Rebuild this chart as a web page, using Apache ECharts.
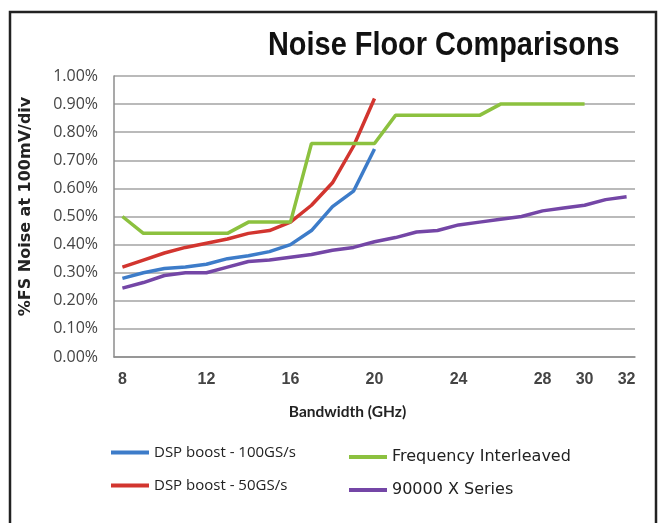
<!DOCTYPE html>
<html>
<head>
<meta charset="utf-8">
<script src="https://cdn.jsdelivr.net/npm/echarts@6/dist/echarts.min.js"></script>
<style>html,body{margin:0;padding:0;background:#fff}#c{width:666px;height:523px}</style>
</head>
<body>
<div id="c"></div>
<script>
const xTickLabels = [8, 12, 16, 20, 24, 28, 30, 32];
const yTicks = [0, 0.1, 0.2, 0.3, 0.4, 0.5, 0.6, 0.7, 0.8, 0.9, 1.0];

const ghzBlue = [8, 9, 10, 11, 12, 13, 14, 15, 16, 17, 18, 19, 20];
const dsp100 = [0.28, 0.30, 0.315, 0.32, 0.33, 0.35, 0.36, 0.375, 0.40, 0.45, 0.535, 0.59, 0.74];

const ghzRed = [8, 9, 10, 11, 12, 13, 14, 15, 16, 17, 18, 19, 20];
const dsp50 = [0.32, 0.345, 0.37, 0.39, 0.405, 0.42, 0.44, 0.45, 0.48, 0.54, 0.62, 0.75, 0.92];

const ghzGreen = [8, 9, 13, 14, 16, 17, 20, 21, 25, 26, 30];
const freqInterleaved = [0.50, 0.44, 0.44, 0.48, 0.48, 0.76, 0.76, 0.86, 0.86, 0.90, 0.90];

const ghzPurple = [8, 9, 10, 11, 12, 13, 14, 15, 16, 17, 18, 19, 20, 21, 22, 23, 24, 25, 26, 27, 28, 29, 30, 31, 32];
const series90000 = [0.245, 0.265, 0.29, 0.30, 0.30, 0.32, 0.34, 0.345, 0.355, 0.365, 0.38, 0.39, 0.41, 0.425, 0.445, 0.45, 0.47, 0.48, 0.49, 0.50, 0.52, 0.53, 0.54, 0.56, 0.57];

const names = ['DSP boost - 100GS/s', 'DSP boost - 50GS/s', 'Frequency Interleaved', '90000 X Series'];
const colors = ['#3d7cc9', '#d2352f', '#8cc13f', '#7446a6'];
const titleText = 'Noise Floor Comparisons';

function pairs(xs, ys) { return xs.map((x, i) => [x, ys[i]]); }

const chart = echarts.init(document.getElementById('c'));
chart.setOption({
  animation: false,
  backgroundColor: '#fff',
  graphic: [{
    type: 'rect', shape: { x: 10, y: 12, width: 646, height: 530 },
    style: { fill: 'none', stroke: '#222', lineWidth: 2.5 }, silent: true
  }, {
    type: 'text', x: 268, y: 29, scaleX: 0.85, silent: true,
    style: {
      text: titleText, x: 0, y: 0, textAlign: 'left', textVerticalAlign: 'top',
      font: "bold 34px 'Liberation Sans', Arial, sans-serif", fill: '#111'
    }
  }],
  legend: [{
    orient: 'vertical', left: 106, top: 440, itemGap: 18,
    itemWidth: 38, itemHeight: 4, icon: 'rect',
    data: [names[0], names[1]],
    textStyle: { fontFamily: "'Open Sans', sans-serif", fontSize: 15, color: '#222' }
  }, {
    orient: 'vertical', left: 344, top: 444, itemGap: 17,
    itemWidth: 38, itemHeight: 4, icon: 'rect',
    data: [names[2], names[3]],
    textStyle: { fontFamily: "'DejaVu Sans', sans-serif", fontSize: 16, color: '#222' }
  }],
  grid: { left: 114, right: 31, top: 76, bottom: 166, containLabel: false },
  xAxis: {
    type: 'value', min: 7.6, max: 32.4,
    name: 'Bandwidth (GHz)', nameLocation: 'middle', nameGap: 47,
    nameTextStyle: { fontFamily: "Lato, sans-serif", fontWeight: 'bold', fontSize: 15.5, color: '#222', padding: [0, 54, 0, 0] },
    axisLine: { show: true, lineStyle: { color: '#8c8c8c', width: 1.5 } },
    axisTick: { show: false },
    splitLine: { show: false },
    axisLabel: {
      customValues: xTickLabels, margin: 15,
      fontFamily: "'Liberation Sans', Arial, sans-serif", fontWeight: 'bold', fontSize: 16, color: '#444'
    }
  },
  yAxis: {
    type: 'value', min: 0, max: 1.0, interval: 0.1,
    name: '%FS Noise at 100mV/div', nameLocation: 'middle', nameGap: 80, nameRotate: 90,
    nameTextStyle: { fontFamily: "'DejaVu Sans', sans-serif", fontWeight: 'bold', fontSize: 16, color: '#222', padding: [0, 0, 0, 20] },
    axisLine: { show: true, lineStyle: { color: '#8c8c8c', width: 1.5 } },
    axisTick: { show: false },
    splitLine: { show: true, lineStyle: { color: '#a3a3a3', width: 1.5 } },
    axisLabel: {
      margin: 16, fontFamily: "'Open Sans', sans-serif", fontSize: 16, color: '#444',
      formatter: v => v.toFixed(2) + '%'
    }
  },
  series: [
    { name: names[0], type: 'line', data: pairs(ghzBlue, dsp100) },
    { name: names[1], type: 'line', data: pairs(ghzRed, dsp50) },
    { name: names[2], type: 'line', data: pairs(ghzGreen, freqInterleaved) },
    { name: names[3], type: 'line', data: pairs(ghzPurple, series90000) }
  ].map((s, i) => Object.assign(s, {
    showSymbol: false, symbol: 'none', color: colors[i],
    lineStyle: { width: 3.5, color: colors[i] }
  }))
});
</script>
</body>
</html>
